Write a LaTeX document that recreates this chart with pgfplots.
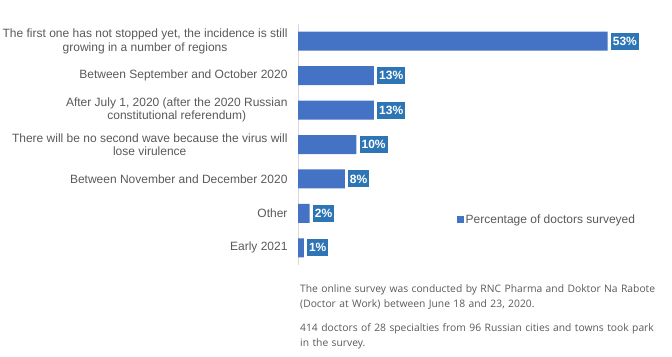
\documentclass[border=0pt]{standalone}
\usepackage{pgfplots}
\pgfplotsset{compat=1.18}
\usepackage{fontspec}
\setmainfont{Liberation Sans}
\newfontfamily\notefont{Open Sans}
\definecolor{barblue}{HTML}{4472C4}
\definecolor{lblblue}{HTML}{2E75B6}
\definecolor{txtgray}{HTML}{595959}
\definecolor{axgray}{HTML}{D9D9D9}
\begin{document}
\begin{tikzpicture}[x=1bp,y=1bp]
\path[use as bounding box] (0,0) rectangle (672,356);
\begin{axis}[
  at={(298bp,91bp)}, anchor=south west,
  scale only axis,
  width=350.6bp, height=241bp,
  xmin=0, xmax=60,
  ymin=-0.5, ymax=6.5,
  y dir=reverse,
  xbar, bar width=19bp,
  axis x line=none,
  axis y line*=left,
  y axis line style={axgray, line width=0.8pt, -},
  ytick={0,1,2,3,4,5,6},
  major tick length=0pt,
  yticklabels={{The first one has not stopped yet, the incidence is still\\growing in a number of regions},
    {Between September and October 2020},
    {After July 1, 2020 (after the 2020 Russian\\constitutional referendum)},
    {There will be no second wave because the virus will\\lose virulence},
    {Between November and December 2020},
    {Other},
    {Early 2021}},
  yticklabel style={align=center, font=\fontsize{12bp}{13.5bp}\selectfont, text=txtgray, xshift=-7bp},
  clip=false,
  nodes near coords={\pgfmathprintnumber[assume math mode=true]{\pgfplotspointmeta}\%},
  nodes near coords style={anchor=west, xshift=3bp, fill=lblblue, text=white, font=\bfseries\fontsize{12bp}{13bp}\selectfont, inner sep=2bp, minimum height=17bp},
  legend style={at={(rel axis cs:0.452,0.187)}, anchor=west, draw=none, fill=none, font=\fontsize{12bp}{13bp}\selectfont, text=txtgray, inner sep=0pt},
  legend image code/.code={\fill[barblue] (0bp,-3.5bp) rectangle (7bp,3.5bp);},
]
\addplot[fill=barblue, draw=none] coordinates {
  (53,0) (13,1) (13,2) (10,3) (8,4) (2,5) (1,6)
};
\addlegendentry{Percentage of doctors surveyed}
\end{axis}
\node[anchor=north west, align=left, text width=356bp, inner sep=0pt, text=txtgray,
  font=\notefont\fontsize{10.3bp}{15bp}\selectfont] at (300,72)
  {The online survey was conducted by RNC Pharma and Doktor Na Rabote (Doctor at Work) between June 18 and 23, 2020.\\[9bp]
  414 doctors of 28 specialties from 96 Russian cities and towns took park in the survey.};
\end{tikzpicture}
\end{document}
